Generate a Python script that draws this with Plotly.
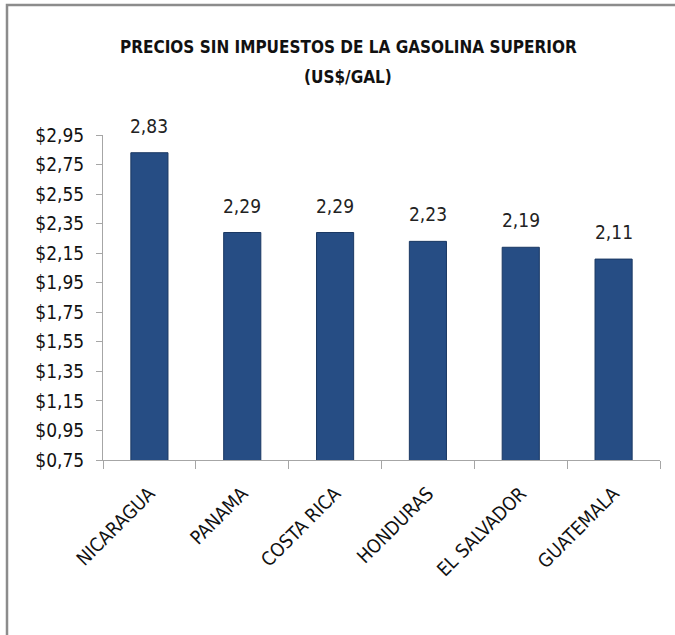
import plotly.graph_objects as go

categories = ["NICARAGUA", "PANAMA", "COSTA RICA", "HONDURAS", "EL SALVADOR", "GUATEMALA"]
values = [2.83, 2.29, 2.29, 2.23, 2.19, 2.11]
tick_vals = [0.75, 0.95, 1.15, 1.35, 1.55, 1.75, 1.95, 2.15, 2.35, 2.55, 2.75, 2.95]
tick_text = ["$0,75", "$0,95", "$1,15", "$1,35", "$1,55", "$1,75", "$1,95", "$2,15", "$2,35", "$2,55", "$2,75", "$2,95"]
title_lines = ["PRECIOS SIN IMPUESTOS DE LA GASOLINA SUPERIOR", "(US$/GAL)"]

FONT = "DejaVu Sans Condensed, Liberation Sans Narrow, sans-serif"

fig = go.Figure()
fig.add_trace(go.Bar(
    x=categories, y=values, width=0.4,
    marker=dict(color="#264D84", line=dict(color="#1A3863", width=1)),
    hoverinfo="skip",
))

for c, v in zip(categories, values):
    fig.add_annotation(x=c, y=v, text=f"{v:.2f}".replace(".", ","), showarrow=False,
                       yanchor="bottom", yshift=14, font=dict(family=FONT, size=19, color="#222"))

for i, line in enumerate(title_lines):
    fig.add_annotation(xref="paper", yref="paper", x=0.44, y=1.0, yshift=(135 - 47) - 30 * i,
                       text="<b>" + line + "</b>", showarrow=False, yanchor="middle",
                       font=dict(family=FONT, size=17, color="#111"))

# chart frame (extends past right/bottom edges as in the reference)
fig.add_shape(type="rect", xref="paper", yref="paper",
              x0=(7 - 103) / 557, x1=(690 - 103) / 557,
              y0=-(650 - 460) / 325, y1=1 + (135 - 5) / 325,
              line=dict(color="#8C8C8C", width=2.5), layer="below")

fig.update_layout(
    width=675, height=635,
    margin=dict(l=103, r=15, t=135, b=175, autoexpand=False),
    paper_bgcolor="white", plot_bgcolor="white",
    showlegend=False,
    bargap=0.6,
    font=dict(family=FONT, color="#111"),
)
fig.update_yaxes(range=[0.75, 2.95], tickvals=tick_vals, ticktext=tick_text,
                 showgrid=False, showline=True, linecolor="#A6A6A6", linewidth=1,
                 ticks="outside", ticklen=6, tickcolor="#A6A6A6", automargin=False,
                 ticklabelstandoff=8,
                 tickfont=dict(family=FONT, size=19, color="#111"), zeroline=False)
fig.update_xaxes(showgrid=False, showline=True, linecolor="#A6A6A6", linewidth=1,
                 ticks="outside", ticklen=8, tickcolor="#A6A6A6", tickson="boundaries",
                 tickangle=-45, automargin=False, ticklabelstandoff=14,
                 tickfont=dict(family=FONT, size=19, color="#111"))

fig.write_html("out.html", config={"displayModeBar": False},
               post_script="document.body.style.margin='0';")
